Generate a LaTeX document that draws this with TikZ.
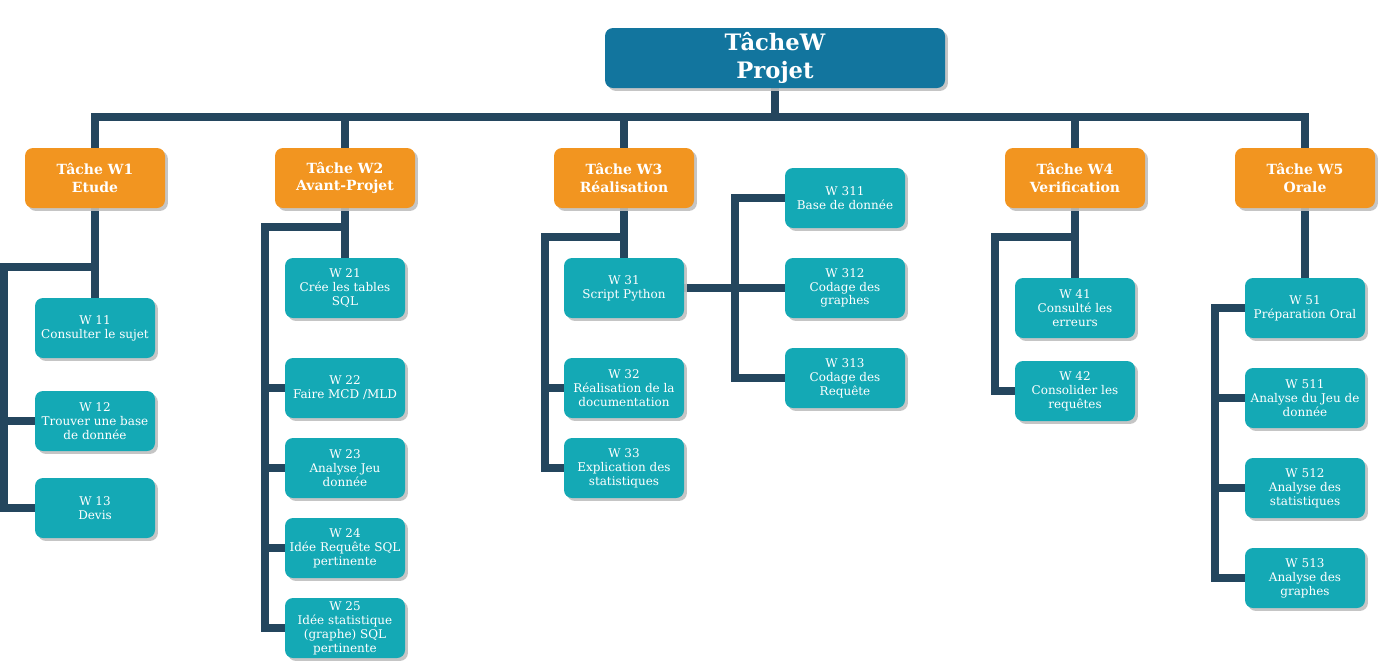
\documentclass[tikz,border=0pt]{standalone}
\usepackage{fontspec}
\setmainfont{DejaVu Serif}
\usetikzlibrary{shadows}
\definecolor{rootblue}{HTML}{12759E}
\definecolor{taskorange}{HTML}{F29520}
\definecolor{subteal}{HTML}{14A9B5}
\definecolor{linkdark}{HTML}{24465E}
\pgfdeclarelayer{background}
\pgfsetlayers{background,main}
\tikzset{
  boxshadow/.style={drop shadow={shadow xshift=2.2pt,shadow yshift=-2.2pt,fill=black!25,opacity=0.9}},
  rootbox/.style={rounded corners=6pt,fill=rootblue,text=white,minimum width=255pt,minimum height=45pt,
    align=center,inner sep=0pt,font=\fontsize{17}{21}\selectfont\bfseries,boxshadow},
  taskbox/.style={rounded corners=6pt,fill=taskorange,text=white,minimum width=105pt,minimum height=45pt,
    align=center,inner sep=0pt,font=\fontsize{10.5}{12.8}\selectfont\bfseries,boxshadow},
  subbox/.style={rounded corners=6pt,fill=subteal,text=white,minimum width=90pt,minimum height=45pt,
    align=center,inner sep=0pt,font=\fontsize{9}{10.4}\selectfont,boxshadow},
  link/.style={draw=linkdark,line width=6pt,line join=miter}
}
\begin{document}
\begin{tikzpicture}[x=0.75pt,y=-0.75pt]
\useasboundingbox (0,0) rectangle (1378,662);

% root
\node[rootbox] (root) at (775,58) {TâcheW\\Projet};

% main tasks
\node[taskbox] (t1) at (95,178) {Tâche W1\\Etude};
\node[taskbox] (t2) at (345,178) {Tâche W2\\Avant-Projet};
\node[taskbox] (t3) at (624,178) {Tâche W3\\Réalisation};
\node[taskbox] (t4) at (1075,178) {Tâche W4\\Verification};
\node[taskbox] (t5) at (1305,178) {Tâche W5\\Orale};

% W1 subtasks
\node[subbox] (w11) at (95,328) {W 11\\Consulter le sujet};
\node[subbox] (w12) at (95,421) {W 12\\Trouver une base\\de donnée};
\node[subbox] (w13) at (95,508) {W 13\\Devis};

% W2 subtasks
\node[subbox] (w21) at (345,288) {W 21\\Crée les tables\\SQL};
\node[subbox] (w22) at (345,388) {W 22\\Faire MCD /MLD};
\node[subbox] (w23) at (345,468) {W 23\\Analyse Jeu\\donnée};
\node[subbox] (w24) at (345,548) {W 24\\Idée Requête SQL\\pertinente};
\node[subbox] (w25) at (345,628) {W 25\\Idée statistique\\(graphe) SQL\\pertinente};

% W3 subtasks
\node[subbox] (w31) at (624,288) {W 31\\Script Python};
\node[subbox] (w32) at (624,388) {W 32\\Réalisation de la\\documentation};
\node[subbox] (w33) at (624,468) {W 33\\Explication des\\statistiques};
\node[subbox] (w311) at (845,198) {W 311\\Base de donnée};
\node[subbox] (w312) at (845,288) {W 312\\Codage des\\graphes};
\node[subbox] (w313) at (845,378) {W 313\\Codage des\\Requête};

% W4 subtasks
\node[subbox] (w41) at (1075,308) {W 41\\Consulté les\\erreurs};
\node[subbox] (w42) at (1075,391) {W 42\\Consolider les\\requêtes};

% W5 subtasks
\node[subbox] (w51) at (1305,308) {W 51\\Préparation Oral};
\node[subbox] (w511) at (1305,398) {W 511\\Analyse du Jeu de\\donnée};
\node[subbox] (w512) at (1305,488) {W 512\\Analyse des\\statistiques};
\node[subbox] (w513) at (1305,578) {W 513\\Analyse des\\graphes};

% junction points of the trunk lines
\coordinate (bar) at (775,117);
\coordinate (b1) at (4,267);
\coordinate (b2) at (265,227);
\coordinate (b3) at (545,237);
\coordinate (b31) at (735,288);
\coordinate (b4) at (995,237);
\coordinate (b5) at (1215,308);

\begin{pgfonlayer}{background}
% top level
\draw[link] (root.south) -- (bar);
\draw[link] (t1.north) -- (t1.north |- bar) -- (t5.north |- bar) -- (t5.north);
\draw[link] (t2.north) -- (t2.north |- bar);
\draw[link] (t3.north) -- (t3.north |- bar);
\draw[link] (t4.north) -- (t4.north |- bar);

% W1
\draw[link] (t1.south) -- (w11.north);
\draw[link] (t1.south |- b1) -- (b1) |- (w13.west);
\draw[link] (b1 |- w12.west) -- (w12.west);

% W2
\draw[link] (t2.south) -- (w21.north);
\draw[link] (t2.south |- b2) -- (b2) |- (w25.west);
\draw[link] (b2 |- w22.west) -- (w22.west);
\draw[link] (b2 |- w23.west) -- (w23.west);
\draw[link] (b2 |- w24.west) -- (w24.west);

% W3
\draw[link] (t3.south) -- (w31.north);
\draw[link] (t3.south |- b3) -- (b3) |- (w33.west);
\draw[link] (b3 |- w32.west) -- (w32.west);
\draw[link] (w31.east) -- (w312.west);
\draw[link] (w311.west) -| (b31) |- (w313.west);

% W4
\draw[link] (t4.south) -- (w41.north);
\draw[link] (t4.south |- b4) -- (b4) |- (w42.west);

% W5
\draw[link] (t5.south) -- (w51.north);
\draw[link] (w51.west) -- (b5) |- (w513.west);
\draw[link] (b5 |- w511.west) -- (w511.west);
\draw[link] (b5 |- w512.west) -- (w512.west);
\end{pgfonlayer}
\end{tikzpicture}
\end{document}
